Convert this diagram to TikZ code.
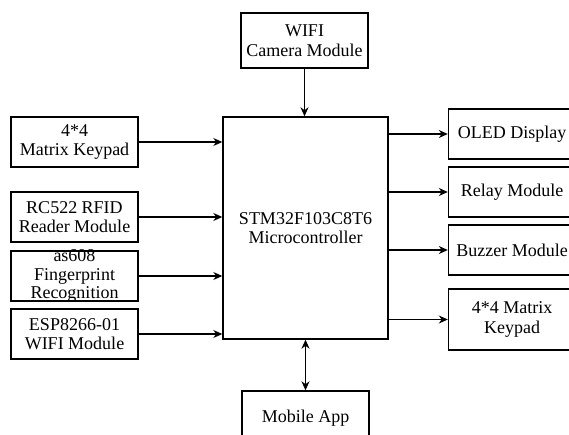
\documentclass[tikz,border=0pt]{standalone}
\usepackage{fontspec}
\setmainfont{Liberation Serif}
\usetikzlibrary{arrows.meta, positioning}

\begin{document}
\begin{tikzpicture}[
    x=1pt, y=-1pt,
    module/.style={rectangle, draw, line width=1.4pt, fill=white, minimum width=127pt, minimum height=50pt, inner sep=0pt, align=center, font=\fontsize{18}{19.5}\selectfont},
    mcubox/.style={module, minimum width=165pt, minimum height=222pt},
    arrow/.style={->, >={Stealth[length=9pt, width=8pt]}, line width=1.2pt},
    biarrow/.style={arrow, <->}
]
\useasboundingbox[fill=white] (0,0) rectangle (569,435);

% Central controller
\node[mcubox] (mcu) at (305.5,228) {STM32F103C8T6\\Microcontroller};

% Top and bottom
\node[module, minimum height=55pt] (camera) at (304.5,40.5) {WIFI\\Camera Module};
\node[module, minimum height=55pt] (app) at (305.5,418.5) {Mobile App};

% Input modules (left)
\node[module] (keypad) at (74.5,142) {4*4\\Matrix Keypad};
\node[module] (rfid) at (74.5,217) {RC522 RFID\\Reader Module};
\node[module, inner ysep=-2.5pt, font=\fontsize{18}{18.5}\selectfont] (finger) at (74.5,276) {as608\\Fingerprint\\Recognition};
\node[module] (esp) at (74.5,334) {ESP8266-01\\WIFI Module};

% Output modules (right)
\node[module] (oled) at (512,134) {OLED Display};
\node[module] (relay) at (512,192) {Relay Module};
\node[module] (buzzer) at (512,250) {Buzzer Module};
\node[module, minimum height=61pt] (keypadout) at (512,319.5) {4*4 Matrix\\Keypad};

% Connections
\draw[arrow] (camera.south) -- (camera.south |- mcu.north);
\draw[biarrow] (mcu.south -| app.north) -- (app.north);

\draw[arrow] (keypad.east) -- (mcu.west |- keypad.east);
\draw[arrow] (rfid.east) -- (mcu.west |- rfid.east);
\draw[arrow] (finger.east) -- (mcu.west |- finger.east);
\draw[arrow] (esp.east) -- (mcu.west |- esp.east);

\draw[arrow] (mcu.east |- oled.west) -- (oled.west);
\draw[arrow] (mcu.east |- relay.west) -- (relay.west);
\draw[arrow] (mcu.east |- buzzer.west) -- (buzzer.west);
\draw[arrow] (mcu.east |- keypadout.west) -- (keypadout.west);

\end{tikzpicture}
\end{document}
